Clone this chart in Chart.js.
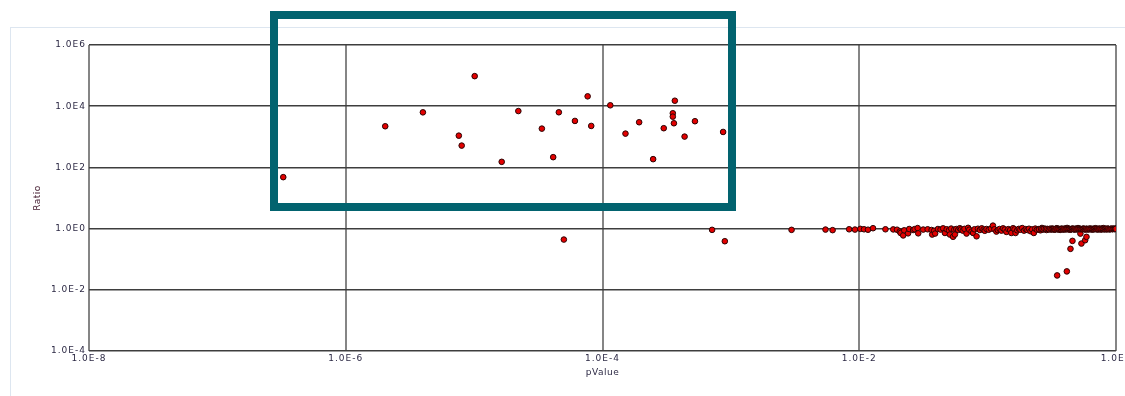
<!DOCTYPE html>
<html>
<head>
<meta charset="utf-8">
<script src="https://cdn.jsdelivr.net/npm/chart.js@4"></script>
<style>
  body { margin: 0; background: #fff; overflow: hidden; }
  #wrap { position: relative; width: 1125px; height: 396px; overflow: hidden; }
  #frame { position: absolute; left: 10px; top: 27px; width: 1300px; height: 500px; border: 1px solid #dde6f0; }
  #pValueRatio { position: absolute; left: 0; top: 0; }
  #highlight { position: absolute; left: 270px; top: 11px; width: 450px; height: 184px; border: 8px solid #02636f; }
</style>
</head>
<body>
<div id="wrap">
  <div id="frame"></div>
  <canvas id="pValueRatio" width="1125" height="396"></canvas>
  <div id="highlight"></div>
</div>
<script>
// tick values (every second decade)
const xTicks = [1e-8, 1e-6, 1e-4, 1e-2, 1];
const yTicks = [1e-4, 1e-2, 1, 1e2, 1e4, 1e6];

// p < 0.01 : the significant ones and a few near 1
const lowP = [3.26e-7, 2.03e-6, 3.99e-6, 7.6e-6, 8.0e-6, 1.01e-5, 1.64e-5, 2.21e-5, 3.37e-5, 4.13e-5,
  4.57e-5, 5.0e-5, 6.1e-5, 7.66e-5, 8.17e-5, 1.15e-4, 1.51e-4, 1.93e-4, 2.48e-4, 3.0e-4,
  3.53e-4, 3.53e-4, 3.6e-4, 3.66e-4, 4.36e-4, 5.25e-4, 8.7e-4, 7.14e-4, 8.97e-4, 2.97e-3,
  5.46e-3, 6.2e-3, 8.34e-3, 9.26e-3];
const lowRatio = [48, 2210, 6300, 1090, 516, 96000, 152, 6940, 1850, 216,
  6330, 0.438, 3300, 21000, 2265, 10700, 1270, 2990, 186, 1910,
  5880, 4560, 2770, 15100, 1015, 3230, 1440, 0.91, 0.387, 0.91,
  0.93, 0.89, 0.95, 0.93];

// 0.01 <= p < 0.1
const midP = [1.02e-2, 1.09e-2, 1.17e-2, 1.28e-2, 1.60e-2, 1.84e-2, 1.97e-2, 2.07e-2, 2.10e-2, 2.20e-2,
  2.24e-2, 2.40e-2, 2.45e-2, 2.63e-2, 2.70e-2, 2.85e-2, 2.88e-2, 3.15e-2, 3.41e-2, 3.66e-2,
  3.70e-2, 3.83e-2, 3.90e-2, 4.1e-2, 4.3e-2, 4.5e-2, 4.65e-2, 4.8e-2, 5.0e-2, 5.08e-2,
  5.2e-2, 5.38e-2, 5.5e-2, 5.56e-2, 5.7e-2, 5.9e-2, 6.07e-2, 6.2e-2, 6.4e-2, 6.6e-2,
  6.85e-2, 7.05e-2, 7.2e-2, 7.49e-2, 7.71e-2, 7.9e-2, 8.2e-2, 8.4e-2, 8.7e-2, 9.0e-2,
  9.3e-2, 9.5e-2, 9.8e-2];
const midRatio = [0.98, 0.95, 0.92, 1.03, 0.95, 0.94, 0.92, 0.80, 0.72, 0.60,
  0.88, 0.70, 0.97, 0.90, 0.96, 1.04, 0.70, 0.93, 0.95, 0.90,
  0.64, 0.85, 0.69, 0.97, 0.93, 1.02, 0.72, 0.95, 0.88, 0.64,
  1.0, 0.54, 0.92, 0.64, 0.97, 0.90, 1.03, 0.94, 0.86, 0.98,
  0.69, 1.06, 0.92, 0.80, 0.72, 0.95, 0.56, 0.99, 0.90, 1.02,
  0.93, 0.85, 0.97];

// 0.1 <= p <= 1
const highP = [0.102, 0.106, 0.110, 0.113, 0.117, 0.120, 0.124, 0.128, 0.132, 0.136,
  0.140, 0.145, 0.150, 0.153, 0.158, 0.162, 0.165, 0.170, 0.175, 0.180,
  0.186, 0.192, 0.198, 0.204, 0.210, 0.216, 0.222, 0.229, 0.235, 0.242,
  0.250, 0.258, 0.265, 0.272, 0.280, 0.288, 0.296, 0.305, 0.312, 0.318,
  0.325, 0.332, 0.339, 0.346, 0.353, 0.360, 0.368, 0.376, 0.384, 0.392,
  0.400, 0.408, 0.416, 0.424, 0.432, 0.441, 0.450, 0.459, 0.468, 0.477,
  0.486, 0.496, 0.506, 0.516, 0.526, 0.536, 0.547, 0.558, 0.569, 0.580,
  0.592, 0.604, 0.616, 0.628, 0.640, 0.653, 0.666, 0.679, 0.693, 0.707,
  0.721, 0.735, 0.750, 0.765, 0.780, 0.796, 0.812, 0.828, 0.845, 0.862,
  0.879, 0.897, 0.915, 0.933, 0.952, 0.971, 0.990, 1.0,
  0.348, 0.414, 0.442, 0.458, 0.528, 0.538, 0.575, 0.589];
const highRatio = [0.92, 1.0, 1.25, 0.95, 0.80, 0.90, 0.97, 0.86, 1.02, 0.93,
  0.78, 0.96, 0.90, 0.72, 1.03, 0.94, 0.72, 0.88, 0.98, 0.92,
  1.04, 0.86, 0.96, 0.90, 0.99, 0.82, 0.94, 0.72, 1.0, 0.92,
  0.96, 0.88, 1.05, 0.93, 0.98, 0.90, 0.95, 0.97, 0.93, 1.0,
  0.95, 0.92, 0.98, 1.03, 0.94, 0.97, 0.91, 0.99, 0.95, 0.93,
  1.0, 0.96, 1.05, 0.94, 0.98, 0.92, 0.97, 1.0, 0.95, 0.93,
  0.99, 0.96, 1.04, 0.94, 0.98, 0.92, 0.97, 1.0, 0.95, 0.93,
  0.99, 0.96, 0.94, 1.0, 0.97, 0.93, 0.99, 0.95, 1.03, 0.96,
  0.94, 1.0, 0.97, 0.93, 0.99, 1.04, 0.95, 0.98, 0.94, 1.0,
  0.97, 0.95, 0.99, 0.96, 1.0, 0.97, 0.98, 0.99,
  0.0295, 0.040, 0.218, 0.397, 0.687, 0.325, 0.416, 0.537];

// the crowded run of p between 0.25 and 1, ratio close to 1
const crowdP = [0.252, 0.261, 0.268, 0.276, 0.284, 0.292, 0.300, 0.308, 0.315, 0.322,
  0.329, 0.336, 0.343, 0.350, 0.357, 0.364, 0.372, 0.380, 0.388, 0.396,
  0.404, 0.412, 0.420, 0.428, 0.436, 0.445, 0.454, 0.463, 0.472, 0.482,
  0.491, 0.501, 0.511, 0.521, 0.531, 0.541, 0.552, 0.563, 0.574, 0.586,
  0.598, 0.610, 0.622, 0.634, 0.647, 0.660, 0.673, 0.686, 0.700, 0.714,
  0.728, 0.742, 0.757, 0.772, 0.788, 0.804, 0.820, 0.836, 0.853, 0.870,
  0.888, 0.906, 0.924, 0.942, 0.961, 0.980, 0.995];
const crowdRatio = [0.95, 0.98, 0.96, 0.99, 0.97, 0.98, 0.95, 0.99, 0.96, 0.98,
  0.97, 0.95, 0.99, 0.96, 0.98, 0.95, 0.97, 0.99, 0.96, 0.98,
  0.95, 0.97, 0.99, 0.96, 0.98, 0.95, 0.97, 0.99, 0.96, 0.98,
  0.95, 0.97, 0.99, 0.96, 0.98, 0.95, 0.97, 0.99, 0.96, 0.98,
  0.95, 0.97, 0.99, 0.96, 0.98, 0.95, 0.97, 0.99, 0.96, 0.98,
  0.95, 0.97, 0.99, 0.96, 0.98, 0.95, 0.97, 0.99, 0.96, 0.98,
  0.95, 0.97, 0.99, 0.96, 0.98, 0.97, 0.98];

function toPoints(ps, rs) {
  return ps.map((p, i) => ({ x: p, y: rs[i] }));
}

const expLabel = v => '1.0E' + Math.round(Math.log10(v));

// draws the tick labels and axis titles
const axisText = {
  id: 'axisText',
  afterDraw(chart) {
    const ctx = chart.ctx;
    const area = chart.chartArea;
    const xs = chart.scales.x, ys = chart.scales.y;
    ctx.save();
    ctx.font = '9px "DejaVu Sans"';
    ctx.letterSpacing = '1px';
    ctx.fillStyle = '#2c2944';
    ctx.textBaseline = 'middle';
    ctx.textAlign = 'center';
    xTicks.forEach(v => ctx.fillText(expLabel(v), xs.getPixelForValue(v), area.bottom + 8));
    ctx.textAlign = 'right';
    yTicks.forEach(v => ctx.fillText(expLabel(v), area.left - 3, ys.getPixelForValue(v)));
    ctx.letterSpacing = '0.5px';
    ctx.textAlign = 'center';
    ctx.fillText('pValue', (area.left + area.right) / 2, area.bottom + 22);
    ctx.translate(38, (area.top + area.bottom) / 2);
    ctx.rotate(-Math.PI / 2);
    ctx.fillStyle = '#4a2336';
    ctx.fillText('Ratio', 0, 0);
    ctx.restore();
  }
};

function pValueRatio() {
  const ctx = document.getElementById('pValueRatio').getContext('2d');
  new Chart(ctx, {
    type: 'scatter',
    data: {
      datasets: [{
        label: 'Ratio',
        data: toPoints(lowP, lowRatio).concat(
          toPoints(midP, midRatio),
          toPoints(highP, highRatio),
          toPoints(crowdP, crowdRatio)
        ),
        backgroundColor: '#e30000',
        borderColor: '#2a0303',
        borderWidth: 1,
        pointRadius: 2.8
      }]
    },
    options: {
      responsive: false,
      animation: false,
      layout: { padding: { left: 89, top: 45, right: 9, bottom: 45 } },
      plugins: { legend: { display: false }, tooltip: { enabled: false } },
      scales: {
        x: {
          type: 'logarithmic',
          min: 1e-8,
          max: 1,
          afterBuildTicks: s => { s.ticks = xTicks.map(v => ({ value: v })); },
          ticks: { display: false },
          border: { display: false },
          grid: { color: '#858585', lineWidth: 2, drawTicks: false }
        },
        y: {
          type: 'logarithmic',
          min: 1e-4,
          max: 1e6,
          afterBuildTicks: s => { s.ticks = yTicks.map(v => ({ value: v })); },
          ticks: { display: false },
          border: { display: false },
          grid: { color: '#3e3e3e', lineWidth: 1.5, drawTicks: false }
        }
      }
    },
    plugins: [axisText]
  });
}
pValueRatio();
</script>
</body>
</html>
